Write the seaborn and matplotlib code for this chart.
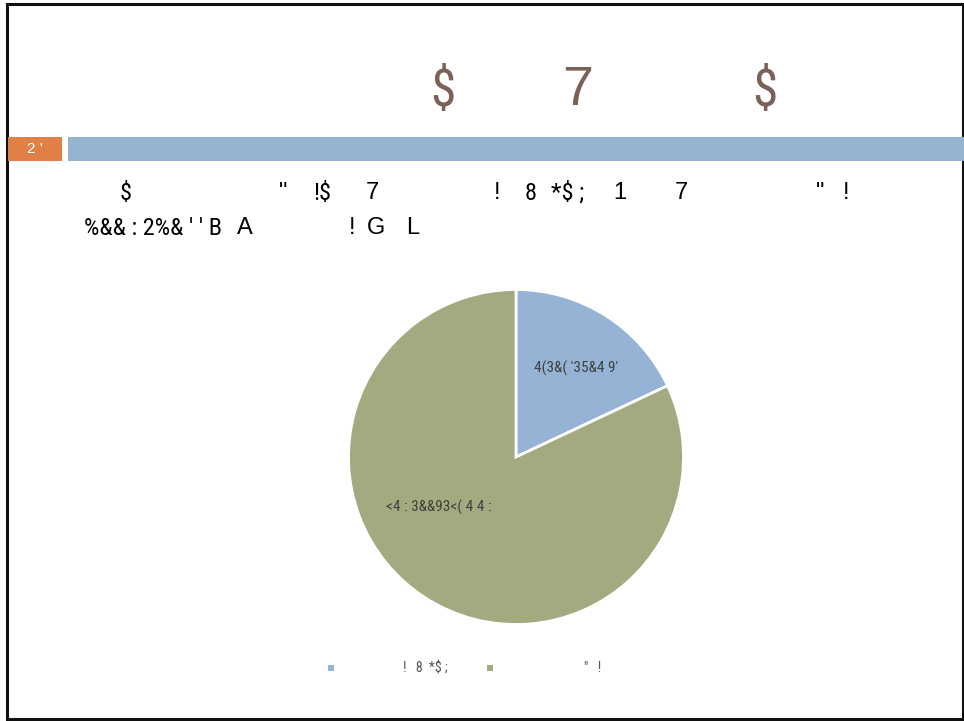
import matplotlib
matplotlib.use("Agg")
import matplotlib.pyplot as plt
import seaborn as sns
from matplotlib.patches import Rectangle
from matplotlib import font_manager as fm
import os

sns.set_theme(style="white")
plt.rcParams['font.family'] = ['Liberation Sans', 'DejaVu Sans']

# ---- data ----
categories = ["4(3&( '35&4 9'", "<4 : 3&&93<( 4 4 :"]
values = [18, 82]
legend_labels = ["!   8  *$ ;", "\"   !"]
colors = ["#95b3d4", "#a4aa7f"]
title_parts = ["$", "7", "$"]
tag_text = "2 '"

W, H = 964, 721
fig = plt.figure(figsize=(W / 100, H / 100), dpi=100)
fig.patch.set_facecolor("white")

def fx(x):
    return x / W

def fy(y):
    return 1 - y / H

# regular condensed face if available
cand = []
for f in fm.fontManager.ttflist:
    b = os.path.basename(f.fname)
    if ('Condensed' in b or 'Narrow' in b) and not any(
            k in b for k in ('Bold', 'Oblique', 'Italic', 'Light', 'Thin',
                             'Black', 'Medium', 'Semi', 'Extra')):
        cand.append(f.fname)
def rank(p):
    b = os.path.basename(p)
    if 'LiberationSansNarrow' in b:
        return 0
    if 'Roboto' in b:
        return 1
    if 'DejaVuSansCondensed' in b:
        return 2
    return 3
cand.sort(key=rank)
cond = cand[0] if cand else None
if cond is not None:
    narrow_fp = lambda size: fm.FontProperties(fname=cond, size=size)
else:
    narrow_fp = lambda size: fm.FontProperties(family=['Liberation Sans', 'DejaVu Sans'], size=size)

def ntext(x, y, s, size, color, **kw):
    fig.text(fx(x), fy(y), s, fontproperties=narrow_fp(size), color=color,
             ha="center", va="center", **kw)

# border
fig.patches.append(Rectangle((fx(7), fy(719)), fx(956), (719 - 4) / H,
                             transform=fig.transFigure, fill=False,
                             edgecolor="#111111", linewidth=2.2))

# title
brown = "#7b6257"
ntext(443, 92, title_parts[0], 37, brown)
fig.text(fx(578), fy(91), title_parts[1], fontsize=40, color=brown,
         ha="center", va="center")
ntext(765, 92, title_parts[2], 37, brown)

# header bars
fig.patches.append(Rectangle((fx(8), fy(161)), fx(54), 24 / H,
                             transform=fig.transFigure, color="#e07f46", lw=0))
fig.patches.append(Rectangle((fx(68), fy(161)), fx(896), 24 / H,
                             transform=fig.transFigure, color="#94b4d2", lw=0))
fig.text(fx(35), fy(149), tag_text, fontsize=11, color="white",
         ha="center", va="center")

# body text fragments
line1 = [(126, "$", True), (283, "\"", False), (322, "!$", True),
         (372, "7", False), (497, "!", False), (531, "8", True),
         (568, "*$ ;", True), (620, "1", False), (681, "7", False),
         (820, "\"", False), (846, "!", False)]
line2 = [(153, "%&& : 2%& ' ' B", True), (245, "A", False), (352, "!", False),
         (376, "G", False), (413, "L", False)]
for y, line in ((193, line1), (228, line2)):
    for x, s, nar in line:
        if nar:
            ntext(x, y, s, 17.5, "black")
        else:
            fig.text(fx(x), fy(y), s, fontsize=17, color="black",
                     ha="center", va="center")

# pie
cx, cy, r = 516, 457, 167.5
ax = fig.add_axes([fx(cx - r), (H - cy - r) / H, 2 * r / W, 2 * r / H])
wedges, _ = ax.pie(values, colors=colors, startangle=90, counterclock=False,
                   wedgeprops=dict(edgecolor="white", linewidth=2))
ax.set_xlim(-1, 1)
ax.set_ylim(-1, 1)
ax.set_aspect("equal")
ax.axis("off")
label_pos = [(0.36, 0.53), (-0.46, -0.30)]
for (px, py), name in zip(label_pos, categories):
    ax.text(px, py, name, fontproperties=narrow_fp(11), color="#404040",
            ha="center", va="center")

# legend
leg_x = [331, 490]
text_x = [425, 593]
for lx, tx, c, lab in zip(leg_x, text_x, colors, legend_labels):
    fig.patches.append(Rectangle((fx(lx - 3), fy(671)), 6 / W, 6 / H,
                                 transform=fig.transFigure, color=c, lw=0))
    ntext(tx, 668, lab, 10, "#555555")

fig.savefig("out.png", dpi=100, facecolor="white")
